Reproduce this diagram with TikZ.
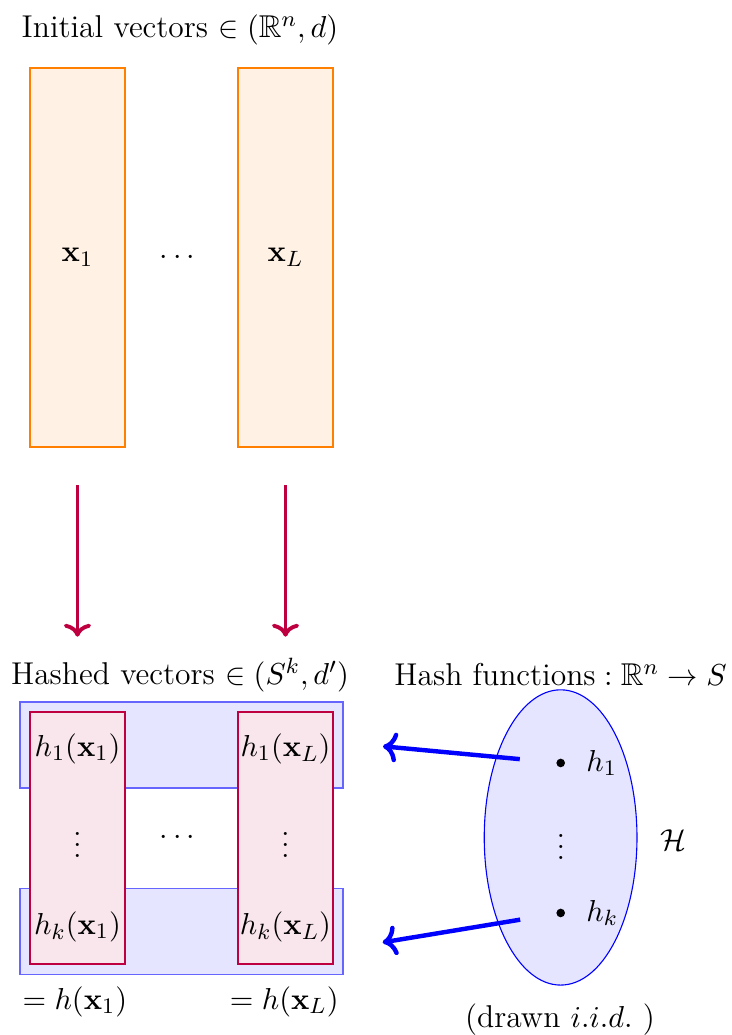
\documentclass[tikz,border=0pt]{standalone}
\usepackage{amsmath,amssymb}
\usetikzlibrary{arrows.meta,positioning,shapes.geometric,calc}
\tikzset{
  vecbox/.style={draw=orange, fill=orange!10, minimum width=1.207cm, minimum height=4.813cm, inner sep=0pt},
  hashbox/.style={draw=purple, fill=purple!10, minimum width=1.207cm, minimum height=3.2cm, inner sep=0pt},
  rowbox/.style={draw=blue!60, line width=0.6pt, fill=blue!10, minimum width=4.102cm, minimum height=1.09cm, inner sep=0pt},
  hpt/.style={circle, fill, inner sep=1.1pt},
  arr/.style={-{To}, line width=1.4pt},
  lab/.style={inner sep=2pt},
}

\begin{document}
\begin{tikzpicture}[font=\fontsize{11.4}{13.5}\selectfont]
    \useasboundingbox (0,0) rectangle (9.284,-13.145);
    % initial vectors
    \node[lab] (title1) at (2.286,-0.381) {Initial vectors $\in (\mathbb{R}^n, d)$};
    \node[vecbox] (v1) at (0.984,-3.270) {$\mathbf{x}_1$};
    \node[vecbox] (vL) at (3.626,-3.270) {$\mathbf{x}_L$};
    \node (dots1) at (2.286,-3.277) {$\cdots$};
    % hashed vectors
    \node[lab] (title2) at (2.286,-8.573) {Hashed vectors $\in (S^k, d')$};
    \node[rowbox] (row1) at (2.305,-9.462) {};
    \node[rowbox] (row2) at (2.305,-11.83) {};
    \node[hashbox] (hb1) at (0.984,-10.643) {};
    \node[hashbox] (hbL) at (3.626,-10.643) {};
    \node (h11) at (0.984,-9.51) {$h_1(\mathbf{x}_1)$};
    \node (hk1) at (0.984,-11.77) {$h_k(\mathbf{x}_1)$};
    \node[inner sep=0pt] (v1dots) at (0.984,-10.63) {$\vdots$};
    \node (h1L) at (3.626,-9.51) {$h_1(\mathbf{x}_L)$};
    \node (hkL) at (3.626,-11.77) {$h_k(\mathbf{x}_L)$};
    \node[inner sep=0pt] (vLdots) at (3.626,-10.63) {$\vdots$};
    \node (dots2) at (2.286,-10.64) {$\cdots$};
    \node (eq1) at (0.95,-12.72) {$= h(\mathbf{x}_1)$};
    \node (eqL) at (3.61,-12.72) {$= h(\mathbf{x}_L)$};
    % hash family
    \node[lab] (title3) at (7.12,-8.573) {$\text{Hash functions} : \mathbb{R}^n \to S$};
    \node[ellipse, draw=blue, fill=blue!10, minimum width=1.94cm, minimum height=3.75cm, inner sep=0pt] (fam) at (7.12,-10.636) {};
    \node[hpt] (hone) at (7.121,-9.69) {};
    \node[hpt] (hkay) at (7.121,-11.595) {};
    \node[right=0.14cm of hone] (hone lab) {$h_1$};
    \node[right=0.14cm of hkay] (hkay lab) {$h_k$};
    \node[inner sep=0pt] (famdots) at (7.125,-10.655) {$\vdots$};
    \node (H) at (8.547,-10.668) {$\mathcal{H}$};
    \node (iid) at (7.112,-12.954) {(drawn $i.i.d.$ )};
    % connectors
    \draw[arr, purple, shorten <=0.48cm, shorten >=0.95cm] (v1.south) -- (hb1.north);
    \draw[arr, purple, shorten <=0.48cm, shorten >=0.95cm] (vL.south) -- (hbL.north);
    \draw[arr, blue, line width=1.6pt, shorten <=0.46cm, shorten >=0.5cm] (hone) -- ([yshift=0.03cm]row1.east);
    \draw[arr, blue, line width=1.6pt, shorten <=0.46cm, shorten >=0.5cm] (hkay) -- ([yshift=-0.22cm]row2.east);
  \end{tikzpicture}
\end{document}
